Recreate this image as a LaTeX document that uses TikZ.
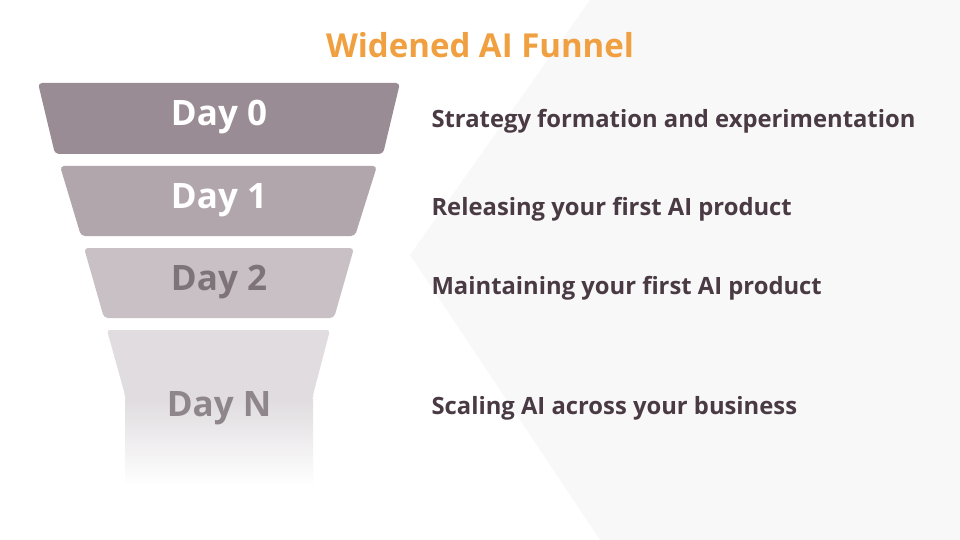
\documentclass[tikz,border=0pt]{standalone}
\usepackage{fontspec}
\setmainfont{Open Sans}
\usetikzlibrary{fadings}
\definecolor{bgg}{HTML}{F8F8F8}
\definecolor{c0}{HTML}{9A8C94}
\definecolor{c1}{HTML}{B0A6AC}
\definecolor{c2}{HTML}{C8C0C5}
\definecolor{c3}{HTML}{E0DCDF}
\definecolor{t2}{HTML}{7E7379}
\definecolor{t3}{HTML}{8F868B}
\definecolor{dtxt}{HTML}{4A3A44}
\definecolor{orng}{HTML}{F0A040}
\begin{document}
\begin{tikzpicture}[x=1pt,y=-1pt,
  seg/.style={rounded corners=4pt},
  day/.style={font=\bfseries\fontsize{35}{40}\selectfont},
  desc/.style={font=\bfseries\fontsize{23.8}{28}\selectfont,text=dtxt,anchor=west}]
\useasboundingbox (0,0) rectangle (960,540);
\fill[white] (0,0) rectangle (960,540);
\fill[bgg] (590,0) -- (960,0) -- (960,540) -- (600,540) -- (410,255) -- cycle;
\node[font=\bfseries\fontsize{33}{38}\selectfont,text=orng] (title) at (480,45) {Widened AI Funnel};
\fill[c0,seg] (38,83) -- (400,83) -- (383,154) -- (55,154) -- cycle;
\fill[c1,seg] (60,166) -- (377,166) -- (355,236) -- (81,236) -- cycle;
\fill[c2,seg] (84,248) -- (354,248) -- (334,318) -- (104,318) -- cycle;
\fill[c3,rounded corners=3pt] (107,330) -- (330,330) -- (313,395) -- (313,400) -- (125,400) -- (125,395) -- cycle;
\fill[top color=c3,bottom color=white] (125,399) rectangle (313,485);
\node[day,text=white] (d0) at (219,117) {Day 0};
\node[day,text=white] (d1) at (219,200) {Day 1};
\node[day,text=t2] (d2) at (219,282) {Day 2};
\node[day,text=t3] (dn) at (219,408) {Day N};
\node[desc] (e0) at (428,121) {Strategy formation and experimentation};
\node[desc] (e1) at (428,209) {Releasing your first AI product};
\node[desc] (e2) at (428,288) {Maintaining your first AI product};
\node[desc] (e3) at (428,408) {Scaling AI across your business};
\end{tikzpicture}
\end{document}
